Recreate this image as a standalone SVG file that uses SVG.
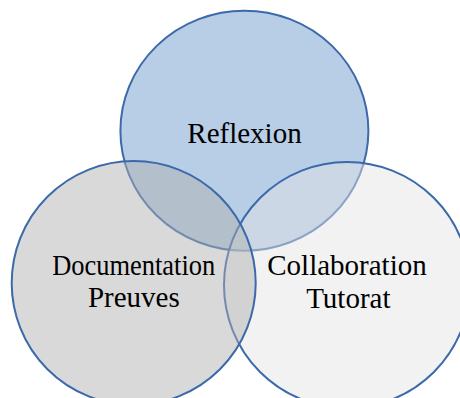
<svg xmlns="http://www.w3.org/2000/svg" width="460" height="398" viewBox="0 0 460 398">
<style>
.c{stroke:#3B69AA;stroke-width:2}
.t{font-family:"Liberation Serif","Times New Roman",serif;font-size:29px;fill:#000;text-anchor:middle}
</style>
<rect width="460" height="398" fill="#fff"/>
<g id="reflexion">
<ellipse class="c" cx="244.4" cy="130.7" rx="124" ry="120" fill="#B8CDE6"/>
</g>
<g id="collaboration">
<circle class="c" cx="347" cy="285" r="123" fill="rgb(228,228,228)" fill-opacity="0.47"/>
</g>
<g id="documentation">
<circle class="c" cx="133.7" cy="283" r="122" fill="rgb(176,176,176)" fill-opacity="0.48"/>
</g>
<g id="labels">
<text class="t" x="244.5" y="142.5">Reflexion</text>
<text class="t" x="133.7" y="275" textLength="163" lengthAdjust="spacingAndGlyphs">Documentation</text>
<text class="t" x="133.8" y="307.3">Preuves</text>
<text class="t" x="347" y="275">Collaboration</text>
<text class="t" x="348.3" y="308.3">Tutorat</text>
</g>
<g id="connectors"/>
</svg>
